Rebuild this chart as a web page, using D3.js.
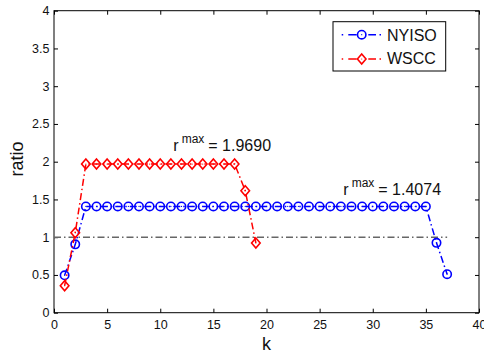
<!DOCTYPE html>
<html><head><meta charset="utf-8">
<script src="https://cdn.jsdelivr.net/npm/d3@7"></script>
<style>
html,body{margin:0;padding:0;background:#fff;}
text{font-family:"Liberation Sans",Arial,Helvetica,sans-serif;fill:#111;}
</style></head>
<body>
<svg id="c" width="484" height="356"></svg>
<script>
const nyisoK = d3.range(1, 38);
const nyisoVals = [0.495, 0.905, 1.4074,1.4074,1.4074,1.4074,1.4074,1.4074,1.4074,1.4074,1.4074,1.4074,1.4074,1.4074,1.4074,1.4074,1.4074,1.4074,1.4074,1.4074,1.4074,1.4074,1.4074,1.4074,1.4074,1.4074,1.4074,1.4074,1.4074,1.4074,1.4074,1.4074,1.4074,1.4074,1.4074, 0.925, 0.51];
const wsccK = d3.range(1, 20);
const wsccVals = [0.358, 1.06, 1.969,1.969,1.969,1.969,1.969,1.969,1.969,1.969,1.969,1.969,1.969,1.969,1.969,1.969,1.969, 1.616, 0.923];
const refLine = [[0, 1], [37, 1]];
const xTicks = [0,5,10,15,20,25,30,35,40];
const yTicks = [0,0.5,1,1.5,2,2.5,3,3.5,4];
const seriesNames = ["NYISO", "WSCC"];
const annotations = [{k: 11.23, v: 2.142, val: "1.9690"}, {k: 27.23, v: 1.559, val: "1.4074"}];

const svg = d3.select("#c");
const L = 54, R = 479, T = 10.7, B = 312.7;
const x = d3.scaleLinear().domain([0, 40]).range([L, R]);
const y = d3.scaleLinear().domain([0, 4]).range([B, T]);
const dash = "7,3,1.5,3";
const blue = "#0000ff", red = "#ff0000";

// axes box and ticks
const g = svg.append("g");
g.append("rect").attr("x", L).attr("y", T).attr("width", R - L).attr("height", B - T)
  .attr("fill", "none").attr("stroke", "#000").attr("stroke-width", 1);

const xb = g.append("g").attr("transform", `translate(0,${B})`)
  .call(d3.axisBottom(x).tickValues(xTicks).tickFormat(d3.format("d")).tickSizeInner(-4).tickSizeOuter(0).tickPadding(7));
const xt = g.append("g").attr("transform", `translate(0,${T})`)
  .call(d3.axisTop(x).tickValues(xTicks).tickFormat("").tickSizeInner(-4).tickSizeOuter(0));
const yl = g.append("g").attr("transform", `translate(${L},0)`)
  .call(d3.axisLeft(y).tickValues(yTicks).tickFormat(d3.format("")).tickSizeInner(-4).tickSizeOuter(0).tickPadding(4.5));
const yr = g.append("g").attr("transform", `translate(${R},0)`)
  .call(d3.axisRight(y).tickValues(yTicks).tickFormat("").tickSizeInner(-4).tickSizeOuter(0));
[xb, xt, yl, yr].forEach(a => {
  a.select(".domain").remove();
  a.selectAll("line").attr("stroke", "#000");
  a.selectAll("text").attr("font-size", 12.5).attr("fill", "#111")
    .attr("font-family", "Liberation Sans,Arial,sans-serif");
});

// axis labels
svg.append("text").attr("x", (L + R) / 2).attr("y", 350).attr("text-anchor", "middle")
  .attr("font-size", 18).text("k");
svg.append("text").attr("transform", `translate(23,159) rotate(-90)`)
  .attr("text-anchor", "middle").attr("font-size", 18).text("ratio");

// reference line
svg.append("path").datum(refLine)
  .attr("d", d3.line().x(d => x(d[0])).y(d => y(d[1])))
  .attr("fill", "none").attr("stroke", "#666").attr("stroke-width", 1.4).attr("stroke-dasharray", dash);

const line = d3.line().x(d => x(d[0])).y(d => y(d[1]));
const nyisoData = nyisoK.map((k, i) => [k, nyisoVals[i]]);
const wsccData = wsccK.map((k, i) => [k, wsccVals[i]]);

function circleMarker(sel, cx, cy) {
  sel.append("circle").attr("cx", cx).attr("cy", cy).attr("r", 4.2)
    .attr("fill", "none").attr("stroke", blue).attr("stroke-width", 1.6);
  sel.append("circle").attr("cx", cx).attr("cy", cy).attr("r", 0.6).attr("fill", blue);
}
function diamondMarker(sel, cx, cy) {
  sel.append("path").attr("d", `M${cx},${cy - 5}L${cx + 4.3},${cy}L${cx},${cy + 5}L${cx - 4.3},${cy}Z`)
    .attr("fill", "none").attr("stroke", red).attr("stroke-width", 1.6);
  sel.append("circle").attr("cx", cx).attr("cy", cy).attr("r", 0.6).attr("fill", red);
}

svg.append("path").datum(nyisoData).attr("d", line)
  .attr("fill", "none").attr("stroke", blue).attr("stroke-width", 1.5).attr("stroke-dasharray", dash);
const nm = svg.append("g");
nyisoData.forEach(d => circleMarker(nm, x(d[0]), y(d[1])));

svg.append("path").datum(wsccData).attr("d", line)
  .attr("fill", "none").attr("stroke", red).attr("stroke-width", 1.5).attr("stroke-dasharray", dash);
const wm = svg.append("g");
wsccData.forEach(d => diamondMarker(wm, x(d[0]), y(d[1])));

// annotations
annotations.forEach(a => {
  const t = svg.append("text").attr("x", x(a.k)).attr("y", y(a.v)).attr("font-size", 16);
  t.append("tspan").text("r");
  t.append("tspan").attr("dx", 3).attr("dy", -8).attr("font-size", 12).text("max");
  t.append("tspan").attr("dx", 4).attr("dy", 8).text("= " + a.val);
});

// legend
const lg = svg.append("g");
lg.append("rect").attr("x", 333).attr("y", 21.7).attr("width", 112.7).attr("height", 49.3)
  .attr("fill", "#fff").attr("stroke", "#000").attr("stroke-width", 1);
const ly = [34.7, 59];
seriesNames.forEach((name, i) => {
  const col = i === 0 ? blue : red;
  lg.append("line").attr("x1", 341.7).attr("x2", 381).attr("y1", ly[i]).attr("y2", ly[i])
    .attr("stroke", col).attr("stroke-width", 1.5).attr("stroke-dasharray", "1.5,5.1,8.4,11.6,7.7,3.5,1.5");
  if (i === 0) circleMarker(lg, 361.7, ly[i]); else diamondMarker(lg, 361.7, ly[i]);
  lg.append("text").attr("x", 387).attr("y", [40.5, 64][i]).attr("font-size", 16).text(name);
});
</script>
</body></html>
